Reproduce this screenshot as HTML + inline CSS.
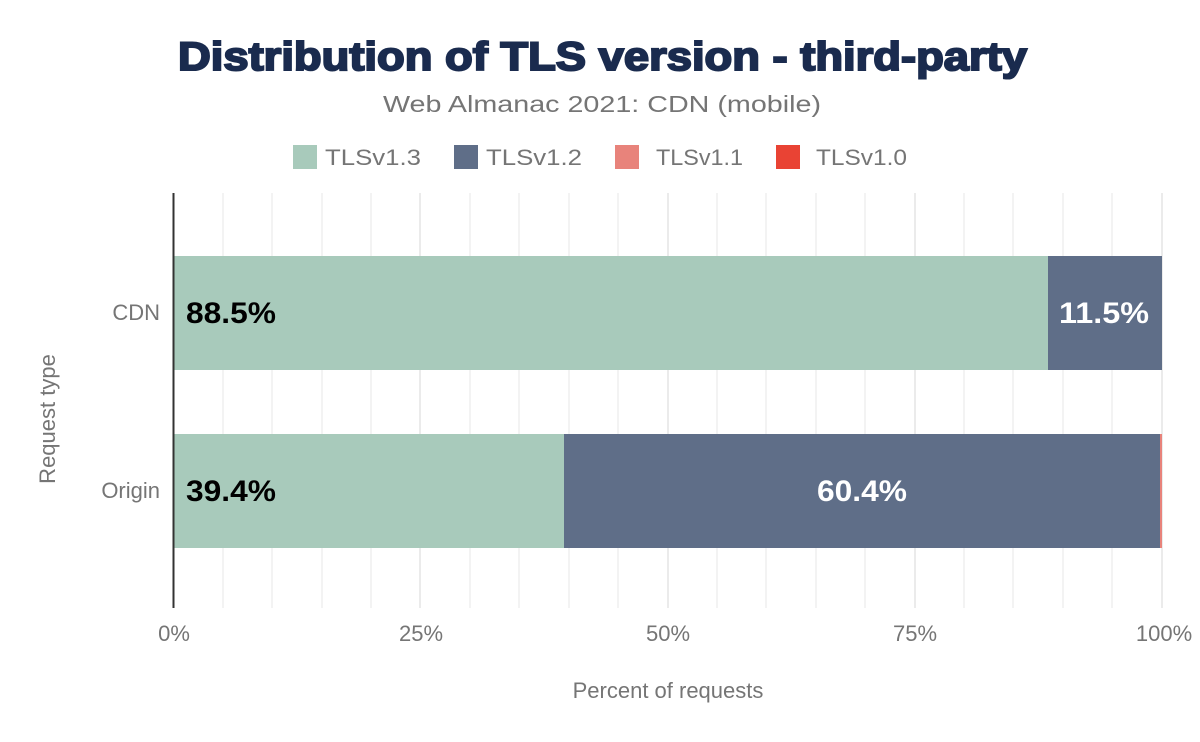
<!DOCTYPE html>
<html><head><meta charset="utf-8"><style>
html,body{margin:0;padding:0;background:#fff;}
svg{display:block;font-family:"Liberation Sans",Arial,sans-serif;}
</style></head><body>
<svg width="1200" height="742" viewBox="0 0 1200 742" xmlns="http://www.w3.org/2000/svg">
<rect width="1200" height="742" fill="#fff"/>
<text x="178" y="70" font-size="40" font-weight="900" fill="#1a2b4e" stroke="#1a2b4e" stroke-width="2" textLength="849" lengthAdjust="spacingAndGlyphs">Distribution of TLS version - third-party</text>
<text x="383" y="112" font-size="23" fill="#757575" textLength="438" lengthAdjust="spacingAndGlyphs">Web Almanac 2021: CDN (mobile)</text>
<rect x="293" y="145" width="24" height="24" fill="#a8cabb"/>
<text x="325" y="165" font-size="22" fill="#757575" textLength="96" lengthAdjust="spacingAndGlyphs">TLSv1.3</text>
<rect x="454" y="145" width="24" height="24" fill="#5f6e88"/>
<text x="486" y="165" font-size="22" fill="#757575" textLength="96" lengthAdjust="spacingAndGlyphs">TLSv1.2</text>
<rect x="615" y="145" width="24" height="24" fill="#e8837b"/>
<text x="656" y="165" font-size="22" fill="#757575" textLength="87" lengthAdjust="spacingAndGlyphs">TLSv1.1</text>
<rect x="776" y="145" width="24" height="24" fill="#e94334"/>
<text x="816" y="165" font-size="22" fill="#757575" textLength="91" lengthAdjust="spacingAndGlyphs">TLSv1.0</text>
<g stroke="#f3f3f3" stroke-width="2">
<line x1="223" y1="193" x2="223" y2="608"/><line x1="272" y1="193" x2="272" y2="608"/><line x1="322" y1="193" x2="322" y2="608"/><line x1="371" y1="193" x2="371" y2="608"/>
<line x1="470" y1="193" x2="470" y2="608"/><line x1="519" y1="193" x2="519" y2="608"/><line x1="569" y1="193" x2="569" y2="608"/><line x1="618" y1="193" x2="618" y2="608"/>
<line x1="717" y1="193" x2="717" y2="608"/><line x1="766" y1="193" x2="766" y2="608"/><line x1="816" y1="193" x2="816" y2="608"/><line x1="865" y1="193" x2="865" y2="608"/>
<line x1="964" y1="193" x2="964" y2="608"/><line x1="1013" y1="193" x2="1013" y2="608"/><line x1="1063" y1="193" x2="1063" y2="608"/><line x1="1112" y1="193" x2="1112" y2="608"/>
</g>
<g stroke="#ebebeb" stroke-width="2">
<line x1="420" y1="193" x2="420" y2="608"/><line x1="668" y1="193" x2="668" y2="608"/><line x1="915" y1="193" x2="915" y2="608"/><line x1="1162" y1="193" x2="1162" y2="608"/>
</g>
<rect x="174" y="256" width="874" height="114" fill="#a8cabb"/>
<rect x="1048" y="256" width="114" height="114" fill="#5f6e88"/>
<rect x="174" y="434" width="390" height="114" fill="#a8cabb"/>
<rect x="564" y="434" width="596" height="114" fill="#5f6e88"/>
<rect x="1160" y="434" width="2" height="114" fill="#e8837b"/>
<line x1="173.5" y1="193" x2="173.5" y2="608" stroke="#333" stroke-width="2"/>
<g font-size="30" font-weight="bold">
<text x="186" y="323" fill="#000" textLength="90" lengthAdjust="spacingAndGlyphs">88.5%</text>
<text x="1059" y="323" fill="#fff" textLength="90" lengthAdjust="spacingAndGlyphs">11.5%</text>
<text x="186" y="501" fill="#000" textLength="90" lengthAdjust="spacingAndGlyphs">39.4%</text>
<text x="817" y="501" fill="#fff" textLength="90" lengthAdjust="spacingAndGlyphs">60.4%</text>
</g>
<g font-size="22" fill="#757575">
<text x="160" y="320" text-anchor="end">CDN</text>
<text x="160" y="498" text-anchor="end">Origin</text>
<text x="174" y="641" text-anchor="middle">0%</text>
<text x="421" y="641" text-anchor="middle">25%</text>
<text x="668" y="641" text-anchor="middle">50%</text>
<text x="915" y="641" text-anchor="middle">75%</text>
<text x="1164" y="641" text-anchor="middle">100%</text>
<text x="668" y="698" text-anchor="middle">Percent of requests</text>
<text x="0" y="0" text-anchor="middle" transform="translate(55,419) rotate(-90)">Request type</text>
</g>
</svg>
</body></html>
